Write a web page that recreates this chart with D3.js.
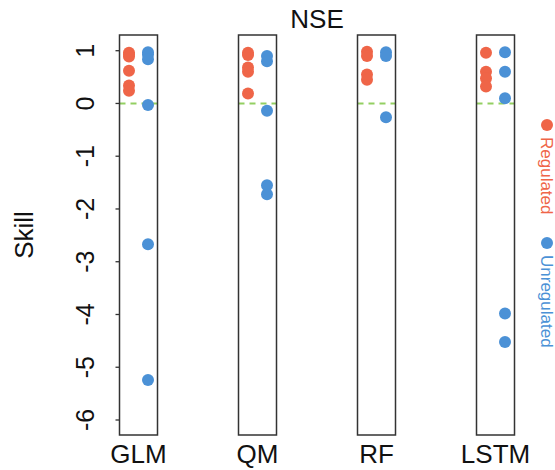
<!DOCTYPE html>
<html>
<head>
<meta charset="utf-8">
<script src="https://cdn.jsdelivr.net/npm/d3@7"></script>
<style>
  html, body { margin: 0; padding: 0; background: #fff; }
  svg { display: block; font-family: "Liberation Sans", Arial, sans-serif; }
</style>
</head>
<body>
<svg id="chart" width="555" height="470"></svg>
<script>
// Skill (NSE) per model, split by regulated / unregulated basins
const models = ["GLM", "QM", "RF", "LSTM"];
const regulated = {
  GLM:  [0.96, 0.93, 0.89, 0.62, 0.34, 0.24],
  QM:   [0.96, 0.92, 0.68, 0.60, 0.19],
  RF:   [0.98, 0.90, 0.55, 0.45],
  LSTM: [0.96, 0.60, 0.48, 0.32]
};
const unregulated = {
  GLM:  [0.97, 0.93, 0.84, -0.03, -2.67, -5.24],
  QM:   [0.90, 0.80, -0.14, -1.55, -1.72],
  RF:   [0.97, 0.90, -0.26],
  LSTM: [0.97, 0.60, 0.10, -3.98, -4.52]
};
const yTicks = [1, 0, -1, -2, -3, -4, -5, -6];
const groups = ["Regulated", "Unregulated"];
const colors = ["#ef6548", "#4b91d6"];

const svg = d3.select("#chart");

const y = d3.scaleLinear().domain([1, -6]).range([50.7, 420]);
const x = d3.scalePoint().domain(models).range([138.5, 495.5]);
const boxTop = 35, boxBottom = 435, halfW = 19, offset = 9.5, r = 6;

// Y axis: ticks with rotated labels
const yAxis = svg.append("g");
yAxis.selectAll("line").data(yTicks).join("line")
  .attr("x1", x(models[0]) - halfW - 4).attr("x2", x(models[0]) - halfW)
  .attr("y1", d => y(d)).attr("y2", d => y(d))
  .attr("stroke", "#333").attr("stroke-width", 1.3);
yAxis.selectAll("text").data(yTicks).join("text")
  .attr("transform", d => `translate(94,${y(d)}) rotate(-90)`)
  .attr("text-anchor", "middle")
  .attr("font-size", 25).attr("fill", "#111")
  .text(d => d);

svg.append("text")
  .attr("transform", `translate(33,${(boxTop + boxBottom) / 2}) rotate(-90)`)
  .attr("text-anchor", "middle").attr("font-size", 26).attr("fill", "#111")
  .text("Skill");

svg.append("text")
  .attr("x", (x(models[0]) + x(models[3])) / 2).attr("y", 28)
  .attr("text-anchor", "middle").attr("font-size", 26).attr("fill", "#111")
  .text("NSE");

// One panel per model
const panel = svg.selectAll("g.panel").data(models).join("g").attr("class", "panel");

panel.append("line")
  .attr("x1", d => x(d) - halfW).attr("x2", d => x(d) + halfW)
  .attr("y1", y(0)).attr("y2", y(0))
  .attr("stroke", "#93cf62").attr("stroke-width", 2)
  .attr("stroke-dasharray", "6,5");

panel.selectAll("circle.reg").data(d => regulated[d].map(v => ({ m: d, v }))).join("circle")
  .attr("class", "reg")
  .attr("cx", d => x(d.m) - offset).attr("cy", d => y(d.v)).attr("r", r)
  .attr("fill", colors[0]);

panel.selectAll("circle.unreg").data(d => unregulated[d].map(v => ({ m: d, v }))).join("circle")
  .attr("class", "unreg")
  .attr("cx", d => x(d.m) + offset).attr("cy", d => y(d.v)).attr("r", r)
  .attr("fill", colors[1]);

panel.append("rect")
  .attr("x", d => x(d) - halfW).attr("y", boxTop)
  .attr("width", halfW * 2).attr("height", boxBottom - boxTop)
  .attr("fill", "none").attr("stroke", "#333").attr("stroke-width", 1.5);

panel.append("text")
  .attr("x", d => x(d)).attr("y", 463)
  .attr("text-anchor", "middle").attr("font-size", 26).attr("fill", "#111")
  .text(d => d);

// Vertical legend on the right
const legendY = [125, 243];
const legend = svg.selectAll("g.legend").data(groups).join("g").attr("class", "legend");
legend.append("circle")
  .attr("cx", 547).attr("cy", (d, i) => legendY[i]).attr("r", r)
  .attr("fill", (d, i) => colors[i]);
legend.append("text")
  .attr("transform", (d, i) => `translate(541,${legendY[i] + 12}) rotate(90)`)
  .attr("font-size", 17).attr("fill", (d, i) => colors[i])
  .text(d => d);
</script>
</body>
</html>
